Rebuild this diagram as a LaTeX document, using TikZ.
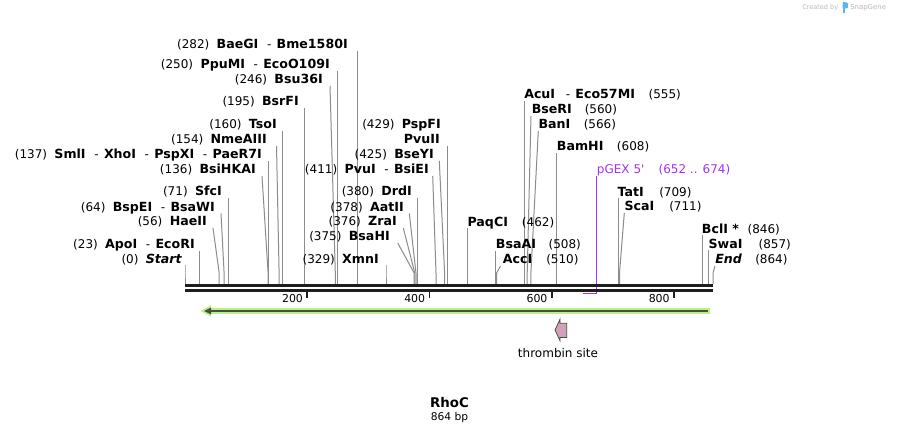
\documentclass[tikz,border=0pt]{standalone}
\usepackage{fontspec}
\setmainfont{DejaVu Sans}
\newfontfamily\plainfam{DejaVu Sans}
\definecolor{leader}{RGB}{140,140,140}
\definecolor{bb}{RGB}{30,30,30}
\definecolor{prim}{RGB}{165,50,240}
\definecolor{lgreen}{RGB}{185,240,135}
\definecolor{dgreen}{RGB}{70,80,60}
\definecolor{pinkf}{RGB}{210,160,188}
\definecolor{logogray}{RGB}{185,185,185}
\definecolor{logoblue}{RGB}{90,180,240}
\newcommand{\nm}[1]{{\fontsize{9.45}{10}\selectfont\bfseries #1}}
\newcommand{\dsh}{\hspace{6.5pt}-\hspace{4pt}}
\newcommand{\gpn}{\hspace{5.5pt}}
% left-type label: name, text end x, baseline, line top x, position x, text
\newcommand{\leftlab}[6]{%
  \node[lbll] (#1) at (#2,#3) {#6};
  \coordinate (#1t) at (#4,#3+2);
  \coordinate (#1b) at (#5,273);
  \coordinate (#1e) at (#5,284);
  \draw[leaderline] (#1t) -- (#1b) -- (#1e);
}
% right-type label: name, start x, baseline, name text, number x, number text, line top x, position x
\newcommand{\rightlab}[8]{%
  \node[lblr] (#1) at (#2,#3) {#4};
  \node[lblr] (#1n) at (#5,#3) {#6};
  \coordinate (#1t) at (#7,#3+2);
  \coordinate (#1b) at (#8,273);
  \coordinate (#1e) at (#8,284);
  \draw[leaderline] (#1t) -- (#1b) -- (#1e);
}
\begin{document}
\begin{tikzpicture}[x=0.75pt,y=-0.75pt,
  lbl/.style={inner sep=0pt,font=\fontsize{9}{10}\selectfont},
  lbll/.style={lbl,anchor=base east},
  lblr/.style={lbl,anchor=base west},
  leaderline/.style={draw=leader,line width=0.75pt},
  backbone/.style={draw=bb,line width=2.1pt},
  tickmark/.style={draw=bb,line width=1.3pt},
  ticklab/.style={inner sep=0pt,anchor=base east,font=\fontsize{8.2}{9}\selectfont},
]
\fill[white] (0,0) rectangle (899,434);
\useasboundingbox (0,0) rectangle (899,434);

% ---- left labels
\leftlab{L1}{348}{49}{357.3}{357.3}{(282)\gpn\nm{BaeGI}\dsh\nm{Bme1580I}}
\leftlab{L2}{330}{69}{337.8}{337.8}{(250)\gpn\nm{PpuMI}\dsh\nm{EcoO109I}}
\leftlab{L3}{323}{84}{330}{335.3}{(246)\gpn\nm{Bsu36I}}
\leftlab{L4}{299}{106}{304.2}{304.2}{(195)\gpn\nm{BsrFI}}
\leftlab{L5}{277}{129}{282.8}{282.8}{(160)\gpn\nm{TsoI}}
\leftlab{L6}{267}{144}{276.5}{279.1}{(154)\gpn\nm{NmeAIII}}
\leftlab{L7}{262}{159}{268.7}{268.7}{(137)\gpn\nm{SmlI}\dsh\nm{XhoI}\dsh\nm{PspXI}\dsh\nm{PaeR7I}}
\leftlab{L8}{256}{174}{262}{268.1}{(136)\gpn\nm{BsiHKAI}}
\leftlab{L9}{222}{196}{228.4}{228.4}{(71)\gpn\nm{SfcI}}
\leftlab{L10}{215}{211.5}{221}{224.1}{(64)\gpn\nm{BspEI}\dsh\nm{BsaWI}}
\leftlab{L11}{207}{226}{213}{219.2}{(56)\gpn\nm{HaeII}}
\leftlab{L12}{195}{249}{199.1}{199.1}{(23)\gpn\nm{ApoI}\dsh\nm{EcoRI}}
\leftlab{L13}{182}{263.5}{185}{185}{(0)\gpn\nm{\itshape Start}}

% ---- middle labels
\node[lbll] (M1) at (441,129) {(429)\gpn\nm{PspFI}};
\leftlab{M2}{440}{144}{447.2}{447.2}{\nm{PvuII}}
\leftlab{M3}{434}{159}{439.3}{444.6}{(425)\gpn\nm{BseYI}}
\leftlab{M4}{429}{174}{432.7}{436}{(411)\gpn\nm{PvuI}\dsh\nm{BsiEI}}
\leftlab{M5}{412}{196}{417.2}{417.2}{(380)\gpn\nm{DrdI}}
\leftlab{M6}{404}{211.5}{409.3}{416}{(378)\gpn\nm{AatII}}
\leftlab{M7}{397}{226}{403.3}{414.8}{(376)\gpn\nm{ZraI}}
\leftlab{M8}{390}{241}{397.7}{414.2}{(375)\gpn\nm{BsaHI}}
\leftlab{M9}{379}{263.5}{386}{386}{(329)\gpn\nm{XmnI}}

% ---- right labels
\rightlab{R1}{524}{99}{\nm{AcuI}\hspace{8pt}-\hspace{4pt}\nm{Eco57MI}}{648.3}{(555)}{524.2}{524.2}
\rightlab{R2}{531.5}{114}{\nm{BseRI}}{584.5}{(560)}{531}{527.2}
\rightlab{R3}{538.3}{129}{\nm{BanI}}{583.5}{(566)}{538.3}{530.9}
\rightlab{R4}{556.7}{151}{\nm{BamHI}}{616.7}{(608)}{556.5}{556.5}
\rightlab{R6}{617.3}{196.5}{\nm{TatI}}{659}{(709)}{618.2}{618.2}
\rightlab{R7}{624.3}{211}{\nm{ScaI}}{669}{(711)}{624.3}{619.5}
\rightlab{R8}{467.3}{226.5}{\nm{PaqCI}}{521.7}{(462)}{467.3}{467.3}
\rightlab{R9}{495.7}{249}{\nm{BsaAI}}{548.3}{(508)}{495.4}{495.4}
\rightlab{R10}{502.7}{264}{\nm{AccI}}{546}{(510)}{500.5}{496.6}
\rightlab{R11}{701.7}{233.3}{\nm{BclI *}}{747.3}{(846)}{702}{702}
\rightlab{R12}{708.3}{248.3}{\nm{SwaI}}{758.3}{(857)}{708.7}{708.7}
\rightlab{R13}{715}{264}{\nm{\itshape End}}{755}{(864)}{715}{713}

% ---- primer
\node[lblr,text=prim] (P) at (596.7,174) {\plainfam pGEX 5'};
\node[lblr,text=prim] (Pn) at (658.3,174) {\plainfam (652 .. 674)};
\coordinate (Pt) at (596.7,176);
\coordinate (Pb) at (596.7,293.7);
\coordinate (Pe) at (583,293.7);
\draw[prim,line width=1.1pt] (Pt) -- (Pb) -- (Pe);

% ---- backbone
\coordinate (bt0) at (185,285.3); \coordinate (bt1) at (713,285.3);
\coordinate (bd0) at (185,290.6); \coordinate (bd1) at (713,290.6);
\draw[backbone] (bt0) -- (bt1);
\draw[backbone] (bd0) -- (bd1);

% ---- ticks
\foreach \v/\xx in {200/307.2,400/429.4,600/551.7,800/673.9}{
  \coordinate (tk\v a) at (\xx,291);
  \coordinate (tk\v b) at (\xx,298.3);
  \draw[tickmark] (tk\v a) -- (tk\v b);
  \node[ticklab] (tl\v) at (\xx-4,302.5) {\v};
}

% ---- green feature arrow
\coordinate (ga0) at (208,311); \coordinate (ga1) at (710,311);
\draw[lgreen,line width=4.5pt] (ga0) -- (ga1);
\fill[lgreen] (200.5,311) -- (211,305.3) -- (211,316.7) -- cycle;
\coordinate (gd0) at (210,311); \coordinate (gd1) at (708,311);
\draw[dgreen,line width=1.7pt] (gd0) -- (gd1);
\fill[dgreen] (204,311) -- (211,307.6) -- (211,314.4) -- cycle;

% ---- thrombin site
\draw[fill=pinkf,draw=dgreen,line width=0.6pt]
  (555,330) -- (560,319.3) -- (560,323.3) -- (566.7,323.3) -- (566.7,337.5)
  -- (560,337.5) -- (560,340.7) -- cycle;
\node[inner sep=0pt,anchor=base,font=\fontsize{9}{10}\selectfont] (thr) at (558,357.5) {thrombin site};

% ---- title
\node[inner sep=0pt,anchor=base,font=\fontsize{10}{11}\selectfont\bfseries] (title) at (449.5,407.3) {RhoC};
\node[inner sep=0pt,anchor=base,font=\fontsize{8}{9}\selectfont] (len) at (449.5,420) {864 bp};

% ---- logo
\node[inner sep=0pt,anchor=base west,text=logogray,font=\fontsize{4.9}{5}\selectfont] (cb) at (802,10) {Created by};
\fill[logoblue,rounded corners=0.8pt] (842.5,2.5) rectangle (848,8.5);
\fill[logoblue] (842.5,2.5) rectangle (845,13);
\node[inner sep=0pt,anchor=base west,text=logogray,font=\fontsize{5.2}{6}\selectfont] (sg) at (850,10) {SnapGene};
\end{tikzpicture}
\end{document}
